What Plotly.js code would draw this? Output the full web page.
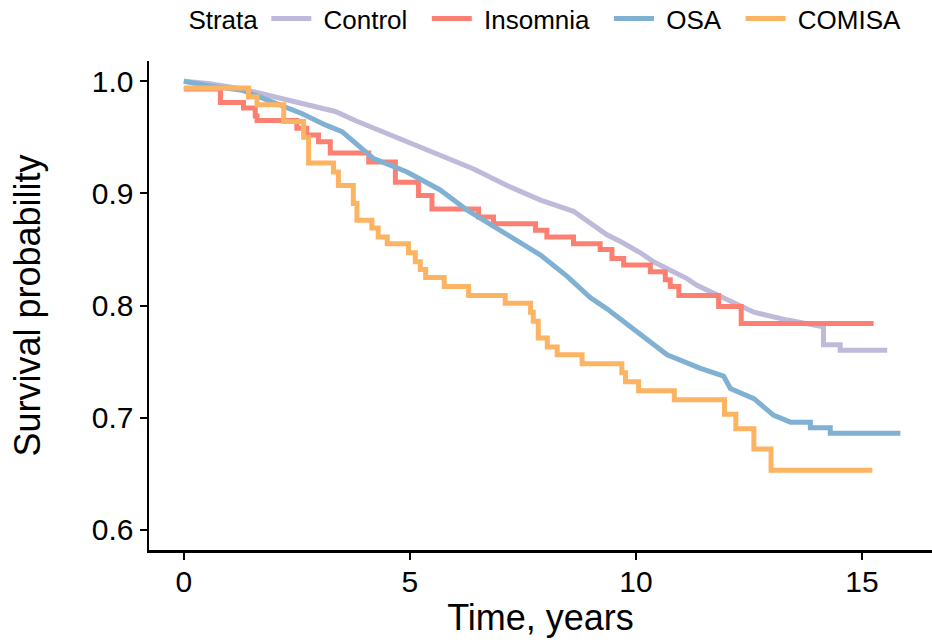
<!DOCTYPE html>
<html>
<head>
<meta charset="utf-8">
<script src="https://cdn.plot.ly/plotly-3.0.1.min.js"></script>
<style>html,body{margin:0;padding:0;background:#fff;}#chart{width:932px;height:642px;}</style>
</head>
<body>
<div id="chart"></div>
<script>
// Control (many small events)
const controlTime = [0, 0.54, 1.29, 2.02, 2.75, 3.35, 3.79, 4.35, 4.86, 5.67, 6.40, 7.15, 7.89, 8.62, 9.36, 9.66, 10.10, 10.39, 11.13, 11.35, 11.87, 12.61, 13.35, 14.08, 14.15, 14.15, 14.52, 14.52, 15.56];
const controlSurv = [1.0, 0.998, 0.993, 0.986, 0.979, 0.973, 0.965, 0.956, 0.947, 0.934, 0.922, 0.907, 0.894, 0.884, 0.863, 0.857, 0.847, 0.839, 0.824, 0.818, 0.808, 0.794, 0.787, 0.781, 0.781, 0.765, 0.765, 0.760, 0.760];

// Insomnia (step)
const insomniaTime = [0, 0.81, 1.32, 1.58, 1.62, 2.50, 2.72, 2.98, 3.24, 4.09, 4.68, 5.19, 5.49, 6.52, 6.85, 7.78, 8.03, 8.62, 9.21, 9.47, 9.73, 10.32, 10.65, 10.76, 10.95, 11.83, 12.33, 15.26];
const insomniaSurv = [0.993, 0.981, 0.976, 0.969, 0.965, 0.958, 0.952, 0.946, 0.936, 0.928, 0.910, 0.898, 0.886, 0.879, 0.873, 0.867, 0.861, 0.855, 0.850, 0.842, 0.836, 0.830, 0.823, 0.817, 0.809, 0.799, 0.784, 0.784];

// OSA (many small events)
const osaTime = [0, 0.54, 1.29, 2.02, 2.62, 3.13, 3.50, 3.79, 4.20, 4.94, 5.67, 6.27, 7.15, 7.89, 8.48, 8.99, 9.36, 10.10, 10.69, 11.43, 11.94, 12.09, 12.61, 13.05, 13.42, 13.86, 13.86, 14.30, 14.30, 15.85];
const osaSurv = [1.0, 0.996, 0.992, 0.980, 0.971, 0.961, 0.955, 0.945, 0.931, 0.919, 0.903, 0.885, 0.863, 0.845, 0.826, 0.807, 0.797, 0.774, 0.756, 0.744, 0.737, 0.726, 0.717, 0.702, 0.696, 0.696, 0.691, 0.691, 0.686, 0.686];

// COMISA (step)
const comisaTime = [0, 1.43, 1.62, 2.21, 2.65, 2.76, 3.31, 3.42, 3.75, 3.83, 4.16, 4.30, 4.50, 4.97, 5.12, 5.23, 5.35, 5.76, 6.30, 7.11, 7.67, 7.73, 7.84, 8.04, 8.26, 8.81, 9.69, 9.77, 10.06, 10.85, 11.96, 12.21, 12.61, 12.99, 15.23];
const comisaSurv = [0.994, 0.986, 0.979, 0.964, 0.950, 0.927, 0.919, 0.907, 0.891, 0.876, 0.869, 0.861, 0.855, 0.847, 0.839, 0.832, 0.825, 0.817, 0.809, 0.802, 0.794, 0.786, 0.771, 0.763, 0.756, 0.748, 0.740, 0.732, 0.724, 0.716, 0.703, 0.690, 0.672, 0.653, 0.653];

const strataNames = ["Control", "Insomnia", "OSA", "COMISA"];
const strataColors = ["#BEBADA", "#FB8072", "#80B1D3", "#FDB462"];

const xTicks = [0, 5, 10, 15];
const yTicks = [0.6, 0.7, 0.8, 0.9, 1.0];
const yTickText = ["0.6", "0.7", "0.8", "0.9", "1.0"];

const FONT = "Liberation Sans, Arial, Helvetica, sans-serif";
const NB = "\u00a0";

const series = [
  {x: controlTime, y: controlSurv, shape: "linear"},
  {x: insomniaTime, y: insomniaSurv, shape: "hv"},
  {x: osaTime, y: osaSurv, shape: "linear"},
  {x: comisaTime, y: comisaSurv, shape: "hv"}
];

const traces = series.map((s, i) => ({
  type: "scatter",
  mode: "lines",
  x: s.x,
  y: s.y,
  name: NB + strataNames[i] + NB + NB,
  line: {color: strataColors[i], width: 5, shape: s.shape},
  hoverinfo: "skip"
}));

const layout = {
  width: 932,
  height: 642,
  paper_bgcolor: "#ffffff",
  plot_bgcolor: "#ffffff",
  font: {family: FONT, color: "#000000", size: 26},
  margin: {l: 149, r: 0, t: 61, b: 92},
  showlegend: true,
  legend: {
    orientation: "h",
    xref: "container", yref: "container",
    x: 0.200, xanchor: "left",
    y: 0.971, yanchor: "middle",
    title: {text: "Strata", side: "left", font: {size: 26, family: FONT}},
    font: {size: 26, family: FONT, color: "#000"},
    itemwidth: 40,
    bgcolor: "rgba(0,0,0,0)"
  },
  xaxis: {
    range: [-0.77, 16.55],
    tickvals: xTicks,
    ticktext: xTicks.map(String),
    ticks: "outside", ticklen: 7, tickwidth: 2, tickcolor: "#000",
    ticklabelstandoff: -4,
    showline: true, linecolor: "#000", linewidth: 2.5,
    showgrid: false, zeroline: false, automargin: false,
    tickfont: {size: 30, family: FONT, color: "#000"},
    title: {text: "Time, years", font: {size: 36, family: FONT, color: "#000"}, standoff: 0}
  },
  yaxis: {
    range: [0.582, 1.018],
    tickvals: yTicks,
    ticktext: yTickText,
    ticks: "outside", ticklen: 7, tickwidth: 2, tickcolor: "#000",
    showline: true, linecolor: "#000", linewidth: 2.5,
    showgrid: false, zeroline: false, automargin: false,
    tickfont: {size: 30, family: FONT, color: "#000"},
    title: {text: "Survival probability", font: {size: 36, family: FONT, color: "#000"}, standoff: 40}
  }
};

Plotly.newPlot("chart", traces, layout, {displayModeBar: false, staticPlot: true});
</script>
</body>
</html>
